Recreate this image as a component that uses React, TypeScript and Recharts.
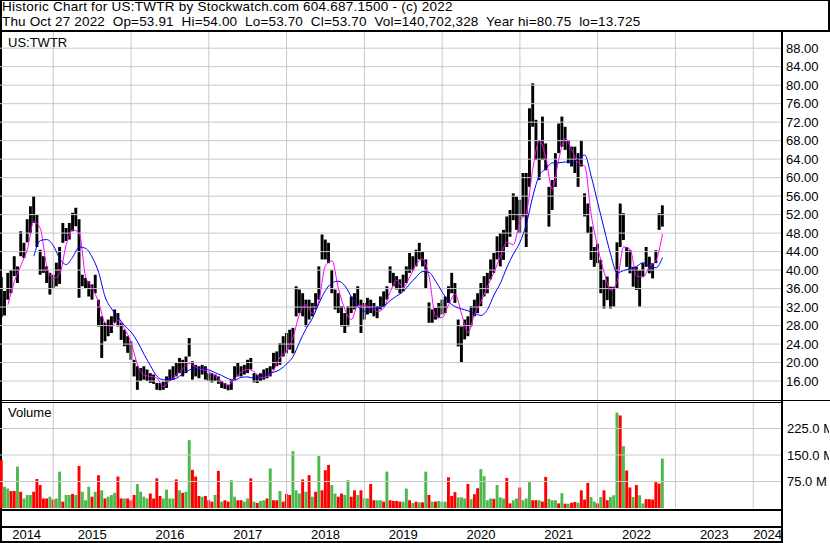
import React from 'react';
import { ComposedChart, Bar, Line, XAxis, YAxis, ReferenceLine, Cell } from 'recharts';

// one bar every half month, first bar = start of May 2014
const START = 2014 + 4 / 12;
const X_DOMAIN: [number, number] = [2014.315, 2024.37];

const highs = [
  38.5, 35.5, 39.4, 40, 43, 40.8, 48.4, 45.9, 51, 53.8,
  56, 52, 44.4, 43, 40.8, 39.4, 39, 41.6, 45, 50.2,
  49.1, 50.2, 52.4, 53.5, 51, 39, 38.3, 37.6, 36.9, 39,
  33.6, 30, 28.6, 29.3, 30, 31.5, 30.7, 28.6, 27.1, 25.7,
  24.6, 20.6, 19.2, 18.8, 19.2, 18.5, 17.7, 17.4, 15.6, 15.6,
  15.9, 17, 18.5, 19.2, 19.9, 21, 20.6, 21.3, 25.3, 20.3,
  19.5, 19.2, 19.5, 19.2, 17.7, 17.7, 17.4, 17, 16, 15.6,
  15.2, 16.3, 19.2, 19.9, 19.2, 19.5, 20.6, 21, 17.7, 17.4,
  17.7, 18.5, 18.8, 19.2, 22.1, 22.4, 24.2, 25.7, 26.4, 27.1,
  27.5, 36.5, 35.8, 35, 33.6, 33.6, 32.9, 35, 40.8, 47.7,
  46.6, 45.9, 40.1, 35.8, 35, 32.2, 30.7, 32.2, 34.3, 35,
  36.5, 33.6, 32.9, 34, 33.6, 32.9, 32.2, 34.3, 35.4, 36.5,
  40.8, 39.4, 38.7, 38, 39, 40.8, 43.7, 43, 44.4, 45.9,
  44, 42.3, 33, 31.5, 31.8, 32.9, 33.6, 34.3, 36.5, 39.4,
  37.2, 29.3, 27.8, 29.3, 30, 32.2, 33.6, 35, 37.2, 38.7,
  39.4, 42.3, 43.7, 47.3, 48, 48.7, 51.6, 53, 56.6, 55.9,
  55.2, 61, 61, 75, 80.4, 72.5, 68.1, 73.2, 67.4, 58,
  59.5, 65.3, 71.7, 73.2, 71, 68.1, 66.7, 66.7, 65.3, 68.1,
  56.6, 54.4, 49.4, 45, 45.7, 42.2, 37.9, 38.6, 36.4, 36.4,
  46, 54.4, 52.3, 45, 44.3, 40.7, 40.7, 40, 41.5, 45,
  42.9, 41.5, 44.3, 52.3, 54,
];

const lows = [
  29.8, 30.2, 33.6, 35, 38.7, 37.2, 43, 42.6, 46, 48,
  50.2, 45, 39, 39.4, 37.2, 34.7, 36.1, 36.5, 37, 45.9,
  46.3, 46.6, 48.4, 49.5, 34, 36.5, 36.1, 34.3, 33.6, 35,
  27.8, 21, 24.6, 25.7, 26.4, 28.6, 27.8, 24.9, 23.5, 22.1,
  20.6, 17, 14.1, 16, 16.3, 16, 15.6, 15.4, 14.1, 14,
  14.1, 14.5, 16, 16.3, 17, 17.7, 17, 17.7, 21.3, 16.3,
  17, 16.6, 17.4, 16.3, 16, 15.7, 16, 15.4, 14.5, 14.3,
  14, 14.1, 16.3, 17, 17, 17.4, 17.7, 18.5, 15.7, 15.6,
  16, 16.3, 16.6, 17, 18.5, 19.2, 19.5, 21.3, 22, 22.8,
  22, 30, 30.7, 30, 27.8, 29.3, 30, 31.5, 33.6, 42.3,
  42.3, 41.5, 35, 31.5, 30.7, 27.8, 26.4, 27.8, 30.7, 31.5,
  32.2, 26.4, 29.3, 30.4, 30.7, 30, 29.6, 31.5, 32.2, 33.6,
  37.2, 36.5, 35.8, 35, 35.4, 37.2, 39.4, 39.8, 40.8, 42.3,
  40.8, 36, 28.6, 28.6, 29.3, 29.6, 30.4, 30.7, 32.9, 35,
  32.9, 23.5, 19.9, 25, 25.7, 27.8, 30, 30.7, 32.2, 34.3,
  35, 38, 39.4, 42.3, 40.8, 42.2, 45, 47.2, 50.8, 48.7,
  48, 51.6, 45, 58, 71, 63.8, 59.5, 63.8, 61.6, 49.4,
  53, 58, 65.3, 66.7, 66, 63.1, 62.4, 61, 58, 62.4,
  51.6, 48, 42.2, 40.7, 41.5, 35, 31.7, 33.5, 31.7, 32.1,
  36, 45, 46.5, 40.7, 39.3, 36.4, 35.7, 32.1, 38.6, 40.7,
  39.3, 38.2, 41.5, 48.7, 49.4,
];

// volume in millions of shares
const volumes = [
  136, 60, 55, 48, 48, 117, 46, 27, 37, 37,
  46, 82, 65, 27, 27, 32, 24, 27, 103, 18,
  37, 37, 40, 37, 119, 46, 22, 60, 32, 46,
  93, 50, 27, 32, 37, 43, 89, 27, 27, 27,
  22, 37, 68, 46, 32, 27, 41, 27, 84, 34,
  27, 52, 27, 27, 81, 50, 43, 46, 192, 108,
  89, 34, 32, 34, 22, 18, 37, 105, 18, 22,
  18, 79, 32, 22, 22, 18, 27, 84, 18, 14,
  20, 22, 27, 112, 22, 22, 48, 18, 40, 37,
  161, 50, 41, 81, 46, 93, 32, 46, 147, 50,
  107, 122, 65, 41, 32, 41, 37, 79, 32, 50,
  37, 50, 27, 27, 68, 22, 22, 22, 18, 103,
  22, 20, 20, 18, 18, 55, 22, 14, 18, 16,
  16, 103, 37, 18, 18, 20, 18, 18, 87, 34,
  45, 30, 30, 27, 68, 25, 39, 56, 110, 90,
  22, 27, 26, 65, 30, 27, 85, 13, 22, 27,
  58, 22, 27, 73, 22, 22, 22, 18, 88, 26,
  22, 22, 13, 42, 12, 12, 15, 17, 15, 50,
  24, 71, 31, 18, 13, 31, 50, 22, 31, 36,
  270, 262, 175, 106, 58, 31, 65, 36, 13, 25,
  25, 24, 73, 69, 140,
];

const volColors =
  'rggrrgrggg' + 'rrrrrgrggr' + 'ggrgrgggrg' + 'rgrgggrrgr' + 'rrggggrrrr' +
  'ggggrgrggr' + 'rrgrrrgrgr' + 'rggrrggrgr' + 'ggrgrrgrrr' + 'gggrgrgrgr' +
  'rrggrrggrr' + 'grggrrggrg' + 'rrrrggrgrg' + 'rgrgrgggr' + 'r' +
  'rgggrgrrgg' + 'ggrgggrrgg' + 'rgggrrgrrg' + 'ggrgrgrrgr' + 'rrggrgrrgg' +
  'grgrrgrggr' + 'rrrrg';

// moving averages, one value per month (every second bar)
const maFast = [
  null, 32.5, 37.5, 41, 44.5, 50.5, 49, 40.8, 38.2, 39.2,
  45.5, 48.7, 48, 38.5, 36.2, 33, 28.5, 27.8, 29.2, 27.3,
  24.4, 19.5, 17.3, 17, 16.6, 14.8, 16.2, 17.3, 18.7, 19.8,
  19, 18.5, 18, 17.1, 15.9, 15.1, 16.5, 18, 18.5, 18,
  16.7, 17, 18.3, 21.2, 22.5, 25.5, 30.5, 32.5, 30.6, 33.5,
  41, 42, 36, 31.5, 29.3, 32.4, 32.3, 32, 31, 31.8,
  35.3, 37.8, 36.2, 38.5, 41.2, 42.4, 38.5, 30, 29.7, 32.5,
  34.8, 30.5, 26.5, 30.5, 33.2, 36.5, 39.5, 43, 46, 45.5,
  50.5, 52.5, 62, 68, 64.3, 57.5, 64, 68.5, 66, 63.2,
  62.5, 52, 45, 39.5, 35.6, 37.5, 45, 44.5, 38.7, 38.5,
  40.8, 42.1, 47.8,
];

const maSlow = [
  null, null, null, null, null, 43, 46.4, 46.6, 45.3, 42.5,
  41.2, 42.8, 45, 44.7, 42.8, 39.5, 34.2, 31.6, 29.8, 28,
  26.6, 24.5, 21.8, 19.3, 17, 16.3, 16.3, 16.6, 17.6, 18.4,
  18.8, 18.8, 18.4, 17.8, 17.2, 16.5, 16.2, 16.8, 16.9, 16.6,
  17, 17.5, 17.9, 18.5, 19.7, 21.3, 24.4, 27.3, 29.6, 32.8,
  35.6, 37.2, 37.6, 36.6, 34.2, 32.1, 31.1, 31.6, 31.9, 32.2,
  33.4, 34.4, 35.4, 37, 38.5, 39.7, 39.5, 37.6, 35.3, 33.2,
  32.1, 31.6, 31.2, 30.6, 30.2, 31.5, 34.6, 37.2, 40.6, 43.5,
  46, 50, 56, 60.5, 61.9, 63.2, 63.2, 63.4, 63.2, 64,
  64.9, 60.3, 54.6, 48.9, 43.4, 39.4, 39.9, 40.3, 40.8, 41.6,
  40.8, 40.5, 42.7,
];

const priceTicks = [16, 20, 24, 28, 32, 36, 40, 44, 48, 52, 56, 60, 64, 68, 72, 76, 80, 84, 88];
const volTicks = [75, 150, 225];
const yearLines = [2015, 2016, 2017, 2018, 2019, 2020, 2021, 2022, 2023, 2024];
const yearLabels = [2014, 2015, 2016, 2017, 2018, 2019, 2020, 2021, 2022, 2023, 2024];

const rows = highs.map((hi, i) => ({
  t: START + i / 24,
  hi,
  lo: lows[i],
  vol: volumes[i],
  up: volColors[i] === 'g',
  fast: i % 2 === 0 ? maFast[i / 2] : null,
  slow: i % 2 === 0 ? maSlow[i / 2] : null,
}));

// centre of each visible year slot, for the labels under the chart
const labelTicks = yearLabels.map(
  (y) => (Math.max(y, X_DOMAIN[0]) + Math.min(y + 1, X_DOMAIN[1])) / 2
);

const FONT = 'Arial, "Liberation Sans", sans-serif';
const GRID = '#c8c8c8';
const RED = '#ff0000';
const GREEN = '#4db84d';

const line = (left: number, top: number, width: number, height: number) => (
  <div style={{ position: 'absolute', left, top, width, height, background: '#000' }} />
);

// plain svg text so recharts does not wrap "225.0 M"
const VolTick = (props: any) => (
  <text x={props.x} y={props.y} dy="0.355em" textAnchor="start" fontSize={13} fontFamily={FONT} fill="#000">
    {props.payload.value.toFixed(1) + ' M'}
  </text>
);

export default function App() {
  return (
    <div
      style={{
        position: 'absolute',
        left: 0,
        top: 0,
        width: 830,
        height: 543,
        background: '#fff',
        overflow: 'hidden',
        fontFamily: FONT,
        color: '#000',
      }}
    >
      {/* frame */}
      {line(0, 0, 830, 1)}
      {line(0, 0, 2, 543)}
      {line(0, 30, 830, 2)}
      {line(828, 0, 2, 31)}

      <div style={{ position: 'absolute', left: 2, top: 0, fontSize: 13.5, lineHeight: '13px', whiteSpace: 'pre', letterSpacing: 0.24 }}>
        Historic Chart for US:TWTR by Stockwatch.com 604.687.1500 - (c) 2022
      </div>
      <div style={{ position: 'absolute', left: 2, top: 15, fontSize: 13.5, lineHeight: '13px', whiteSpace: 'pre', letterSpacing: 0.16 }}>
        {'Thu Oct 27 2022  Op=53.91  Hi=54.00  Lo=53.70  Cl=53.70  Vol=140,702,328  Year hi=80.75  lo=13.725'}
      </div>

      {/* price panel */}
      <div style={{ position: 'absolute', left: 0, top: 32 }}>
        <ComposedChart width={830} height={368} data={rows} margin={{ top: 0, right: 0, bottom: 0, left: 0 }}>
          <XAxis type="number" dataKey="t" domain={X_DOMAIN} allowDataOverflow hide />
          <YAxis
            orientation="right"
            width={48}
            domain={[11.9, 91.5]}
            allowDataOverflow
            ticks={priceTicks}
            interval={0}
            tickFormatter={(v: number) => v.toFixed(2)}
            tickLine={false}
            tickSize={0}
            tickMargin={4}
            axisLine={false}
            tick={{ fill: '#000', fontSize: 13, fontFamily: FONT }}
          />
          {priceTicks.map((v) => (
            <ReferenceLine key={'p' + v} y={v} stroke={GRID} strokeWidth={1} />
          ))}
          {yearLines.map((y) => (
            <ReferenceLine key={'x' + y} x={y} stroke={GRID} strokeWidth={1} />
          ))}
          <Bar dataKey={(d: any) => [d.lo, d.hi]} fill="#000" barSize={4} isAnimationActive={false} />
          <Line dataKey="fast" stroke="#ff00ff" strokeWidth={1} dot={false} connectNulls type="monotone" isAnimationActive={false} />
          <Line dataKey="slow" stroke="#0000ff" strokeWidth={1} dot={false} connectNulls type="monotone" isAnimationActive={false} />
        </ComposedChart>
      </div>
      <div style={{ position: 'absolute', left: 8, top: 36, fontSize: 13, lineHeight: '13px' }}>US:TWTR</div>

      {/* volume panel */}
      <div style={{ position: 'absolute', left: 0, top: 402 }}>
        <ComposedChart width={829} height={141} data={rows} margin={{ top: 0, right: 0, bottom: 0, left: 0 }}>
          <XAxis
            xAxisId="yr"
            type="number"
            dataKey="t"
            domain={X_DOMAIN}
            allowDataOverflow
            ticks={yearLines}
            interval={0}
            tick={false}
            tickLine={{ stroke: '#000' }}
            tickSize={33}
            axisLine={false}
            height={0}
          />
          <XAxis
            xAxisId="lbl"
            type="number"
            dataKey="t"
            domain={X_DOMAIN}
            allowDataOverflow
            ticks={labelTicks}
            interval={0}
            tickFormatter={(v: number) => String(Math.floor(v))}
            tickLine={false}
            tickSize={0}
            tickMargin={22}
            axisLine={false}
            height={35}
            tick={{ fill: '#000', fontSize: 13, fontFamily: FONT }}
          />
          <YAxis
            orientation="right"
            width={47}
            domain={[0, 300]}
            allowDataOverflow
            ticks={volTicks}
            interval={0}
            tickLine={false}
            tickSize={0}
            tickMargin={5}
            axisLine={false}
            tick={<VolTick />}
          />
          {volTicks.map((v) => (
            <ReferenceLine key={'v' + v} xAxisId="yr" y={v} stroke={GRID} strokeWidth={1} />
          ))}
          {yearLines.map((y) => (
            <ReferenceLine key={'vx' + y} xAxisId="yr" x={y} stroke={GRID} strokeWidth={1} />
          ))}
          <Bar xAxisId="yr" dataKey="vol" barSize={4} isAnimationActive={false}>
            {rows.map((r, i) => (
              <Cell key={i} fill={r.up ? GREEN : RED} />
            ))}
          </Bar>
        </ComposedChart>
      </div>
      <div style={{ position: 'absolute', left: 8, top: 406, fontSize: 13, lineHeight: '13px' }}>Volume</div>

      {line(781, 30, 2, 513)}
      {line(0, 400, 830, 1)}
      {line(0, 402, 782, 1)}
      {line(0, 509, 783, 2)}
      {line(0, 526, 783, 2)}
      {line(0, 541, 783, 2)}
    </div>
  );
}
